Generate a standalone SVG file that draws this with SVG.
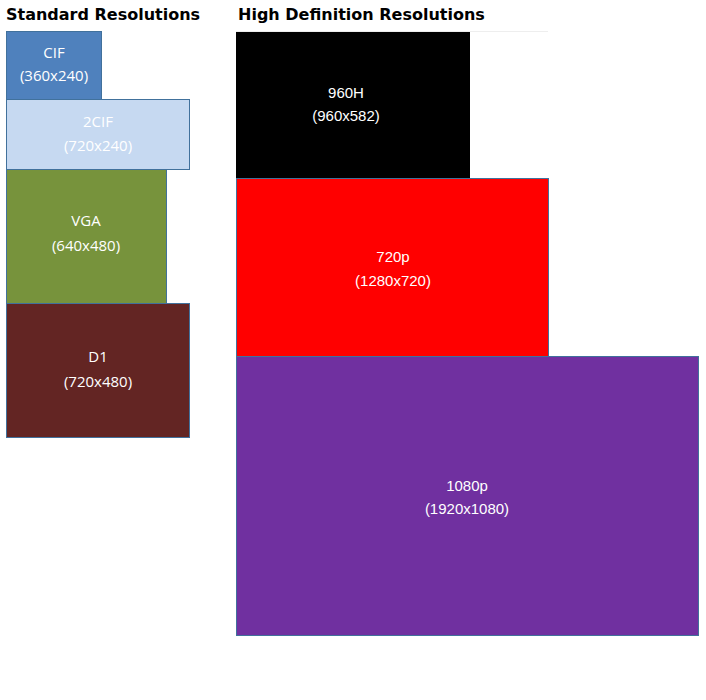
<svg xmlns="http://www.w3.org/2000/svg" width="706" height="700" viewBox="0 0 706 700">
<style>
.b{stroke:#41719c;stroke-width:1}
.t{font-family:"Open Sans","Noto Sans",sans-serif;font-size:15px;fill:#fff;text-anchor:middle}
.a{font-family:"Liberation Sans",Arial,sans-serif;font-size:15px;fill:#fff;text-anchor:middle}
.h{font-family:"DejaVu Sans",sans-serif;font-weight:bold;font-size:16px;fill:#000}
</style>
<rect width="706" height="700" fill="#fff"/>
<text class="h" x="6" y="20">Standard Resolutions</text>
<text class="h" x="238" y="20">High Definition Resolutions</text>
<line x1="236" y1="31.5" x2="548" y2="31.5" stroke="#eee"/>
<g id="cif"><rect class="b" x="6.5" y="31.5" width="95" height="68" fill="#4f81bd"/><text class="t" x="54" y="58">CIF</text><text class="t" x="54" y="81">(360x240)</text></g>
<g id="2cif"><rect class="b" x="6.5" y="99.5" width="183" height="70" fill="#c6d9f1"/><text class="t" x="98" y="127">2CIF</text><text class="t" x="98" y="151">(720x240)</text></g>
<g id="vga"><rect class="b" x="6.5" y="169.5" width="160" height="134" fill="#77933c"/><text class="t" x="86" y="226">VGA</text><text class="t" x="86" y="251">(640x480)</text></g>
<g id="d1"><rect class="b" x="6.5" y="303.5" width="183" height="134" fill="#632523"/><text class="t" x="98" y="362">D1</text><text class="t" x="98" y="387">(720x480)</text></g>
<g id="h960"><rect x="236" y="32" width="234" height="146" fill="#000"/><text class="a" x="346" y="98">960H</text><text class="a" x="346" y="121">(960x582)</text></g>
<g id="p720"><rect class="b" x="236.5" y="178.5" width="312" height="178" fill="#ff0000"/><text class="a" x="393" y="262">720p</text><text class="a" x="393" y="286">(1280x720)</text></g>
<g id="p1080"><rect class="b" x="236.5" y="356.5" width="462" height="279" fill="#7030a0"/><text class="a" x="467" y="491">1080p</text><text class="a" x="467" y="514">(1920x1080)</text></g>
<g id="connectors"/>
</svg>
